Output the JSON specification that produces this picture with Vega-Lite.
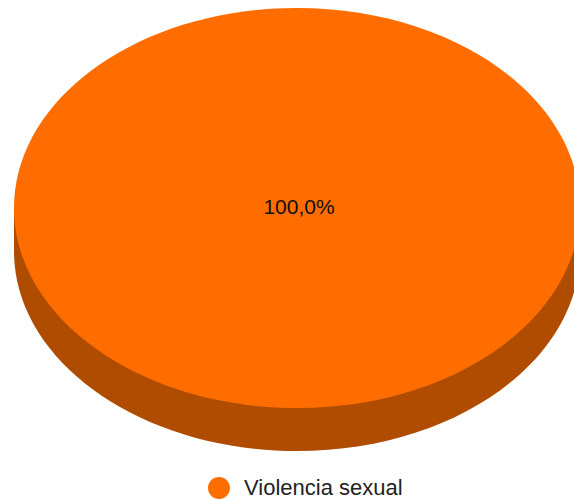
{
  "$schema": "https://vega.github.io/schema/vega-lite/v6.json",
  "autosize": {"type": "none"},
  "padding": {"left": 20, "top": 0, "right": 0, "bottom": 84},
  "width": 554,
  "height": 416,
  "config": {
    "view": {"stroke": null},
    "font": "Liberation Sans",
    "locale": {"number": {"decimal": ",", "thousands": ".", "grouping": [3], "currency": ["", " €"]}}
  },
  "data": {"values": [{"categoria": "Violencia sexual", "valor": 1}]},
  "layer": [
    {
      "mark": {
        "type": "point",
        "shape": "M -1 0 L -1 0.152 A 1 0.7067 0 0 0 1 0.152 L 1 0 Z",
        "size": 320356,
        "filled": true,
        "opacity": 1,
        "strokeWidth": 0,
        "color": "#B04C00"
      },
      "encoding": {}
    },
    {
      "mark": {
        "type": "point",
        "shape": "M -1 0 A 1 0.7067 0 1 0 1 0 A 1 0.7067 0 1 0 -1 0 Z",
        "size": 320356,
        "filled": true,
        "opacity": 1,
        "strokeWidth": 0
      },
      "encoding": {
        "color": {
          "field": "categoria",
          "type": "nominal",
          "scale": {"range": ["#FF6D01"]},
          "legend": {
            "title": null,
            "orient": "none",
            "legendX": 188,
            "legendY": 477,
            "symbolType": "circle",
            "symbolSize": 484,
            "symbolOpacity": 1,
            "symbolStrokeWidth": 0,
            "labelFont": "Liberation Sans",
            "labelFontSize": 22,
            "labelColor": "#222222",
            "labelOffset": 14,
            "padding": 0
          }
        }
      }
    },
    {
      "mark": {"type": "text", "font": "Liberation Sans", "fontSize": 21, "color": "#111111", "align": "center", "baseline": "middle", "dx": 2},
      "encoding": {
        "text": {"field": "valor", "type": "quantitative", "format": ".1%"}
      }
    }
  ]
}
